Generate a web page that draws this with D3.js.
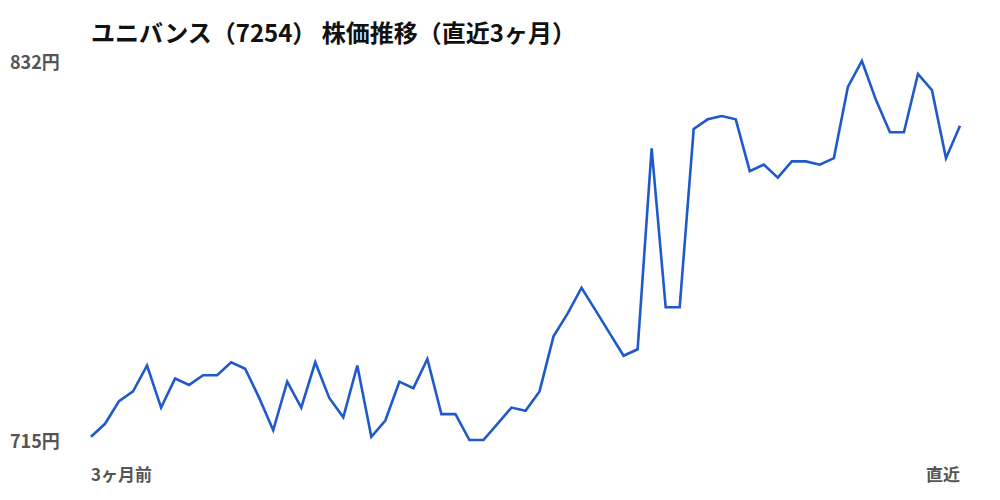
<!DOCTYPE html>
<html><head><meta charset="utf-8">
<script src="https://cdn.jsdelivr.net/npm/d3@7"></script>
<style>
html,body{margin:0;padding:0;background:#fff;}
svg{display:block;font-family:"Noto Sans CJK JP","Noto Sans",sans-serif;}
</style></head>
<body>
<svg id="chart" width="1000" height="500"></svg>
<script>
const title = "ユニバンス（7254） 株価推移（直近3ヶ月）";
const prices = [716,720,727,730,738,725,734,732,735,735,739,737,728,718,733,725,739,728,722,738,
716,721,733,731,740,723,723,715,715,720,725,724,730,747,754,762,755,748,741,743,
805,756,756,811,814,815,814,798,800,796,801,801,800,802,824,832,820,810,810,828,823,802,812];
const yTickLabels = ["715円","832円"];
const xTickLabels = ["3ヶ月前","直近"];
const yMin = 715, yMax = 832;

const svg = d3.select("#chart");
const x = d3.scaleLinear().domain([0, prices.length - 1]).range([91, 960]);
const y = d3.scaleLinear().domain([yMin, yMax]).range([440, 61]);

svg.append("text").attr("x", 91).attr("y", 42)
  .attr("font-size", 24).attr("font-weight", 700).attr("fill", "#111").text(title);

svg.append("path").datum(prices)
  .attr("fill", "none").attr("stroke", "#2059c9").attr("stroke-width", 2.6)
  .attr("stroke-linejoin", "miter")
  .attr("d", d3.line().x((d, i) => x(i)).y(d => y(d)));

[yMin, yMax].forEach((v, i) => {
  svg.append("text").attr("x", 10).attr("y", y(v) + 2).attr("dy", "0.36em")
    .attr("font-size", 18).attr("font-weight", 700).attr("fill", "#555").text(yTickLabels[i]);
});

svg.append("text").attr("x", x(0)).attr("y", 481)
  .attr("font-size", 17).attr("font-weight", 700).attr("fill", "#555").text(xTickLabels[0]);
svg.append("text").attr("x", x(prices.length - 1)).attr("y", 481).attr("text-anchor", "end")
  .attr("font-size", 17).attr("font-weight", 700).attr("fill", "#555").text(xTickLabels[1]);
</script>
</body></html>
